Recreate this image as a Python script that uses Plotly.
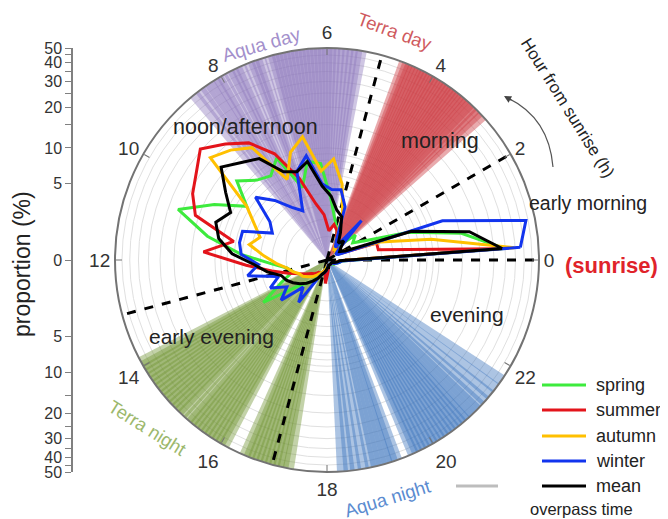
import math
import plotly.graph_objects as go

# ---------------- data ----------------
# half-hour bins (hour from sunrise, bin centres)
bin_hours = [0.25, 0.75, 1.25, 1.75, 2.25, 2.75, 3.25, 3.75, 4.25, 4.75, 5.25, 5.75,
             6.25, 6.75, 7.25, 7.75, 8.25, 8.75, 9.25, 9.75, 10.25, 10.75, 11.25, 11.75,
             12.25, 12.75, 13.25, 13.75, 14.25, 14.75, 15.25, 15.75, 16.25, 16.75, 17.25, 17.75,
             18.25, 18.75, 19.25, 19.75, 20.25, 20.75, 21.25, 21.75, 22.25, 22.75, 23.25, 23.75]

spring = [29.5, 15.4, 6.1, 2.2, 1.4, 1.8, 0.85, 0.6, 0.85, 1.4, 2.0, 3.5,
          7.5, 8.1, 5.0, 10.3, 8.2, 9.0, 11.5, 7.5, 12.7, 21.4, 11.9, 6.1,
          3.1, 2.0, 1.7, 2.7, 5.0, 2.0, 1.4, 1.1, 0.75, 0.55, 0.4, 0.3,
          0.3, 0.2, 0.2, 0.2, 0.2, 0.2, 0.2, 0.3, 0.3, 0.4, 0.5, 0.6]
summer = [27.2, 2.8, 2.8, 0.6, 0.5, 0.6, 0.5, 0.75, 0.85, 1.4, 1.7, 1.3,
          2.3, 3.2, 6.1, 11.2, 16.4, 20.4, 25.6, 21.4, 19.0, 15.9, 7.3, 12.3,
          5.5, 3.1, 2.0, 1.4, 1.1, 0.85, 0.75, 0.6, 0.6, 0.5, 0.4, 1.0,
          0.5, 0.3, 0.2, 0.2, 0.2, 0.2, 0.2, 0.2, 0.3, 0.3, 0.4, 0.5]
autumn = [34.5, 9.0, 3.1, 0.85, 0.5, 0.4, 0.6, 0.5, 0.85, 2.5, 5.1, 8.2,
          6.5, 12.7, 10.3, 6.6, 14.9, 17.9, 20.7, 7.5, 5.5, 4.4, 5.3, 3.7,
          2.7, 2.0, 1.7, 1.4, 1.3, 1.1, 0.95, 0.75, 0.6, 0.5, 0.4, 0.3,
          0.2, 0.2, 0.2, 0.2, 0.2, 0.2, 0.2, 0.2, 0.3, 0.3, 0.4, 0.5]
winter = [37.9, 43.5, 11.9, 0.5, 0.4, 0.6, 2.8, 0.6, 0.85, 3.1, 4.5, 4.4,
          5.0, 9.0, 7.1, 3.0, 3.7, 5.3, 7.3, 4.2, 3.5, 6.5, 6.5, 6.1,
          4.2, 5.5, 2.7, 3.7, 2.5, 3.5, 1.7, 2.7, 0.85, 0.6, 0.5, 0.4,
          0.3, 0.2, 0.2, 0.2, 0.2, 0.2, 0.2, 0.2, 0.3, 0.4, 0.5, 0.6]
mean = [28.6, 17.6, 6.5, 0.85, 0.61, 0.75, 1.1, 0.85, 1.37, 2.32, 2.68, 3.76,
        4.74, 8.07, 7.05, 7.78, 11.9, 13.6, 16.4, 11.9, 9.2, 11.0, 9.7, 7.3,
        4.6, 3.5, 2.5, 2.3, 2.0, 1.7, 1.4, 1.1, 0.85, 0.6, 0.5, 0.4,
        0.3, 0.3, 0.2, 0.2, 0.2, 0.2, 0.2, 0.2, 0.2, 0.3, 0.4, 0.5]

# satellite overpass times (hour from sunrise)
terra_day = [2.86, 2.95, 3.03, 3.1, 3.17, 3.23, 3.29, 3.35, 3.41, 3.47, 3.53, 3.58, 3.64,
             3.7, 3.75, 3.81, 3.87, 3.93, 3.98, 4.04, 4.1, 4.16, 4.21, 4.27, 4.33, 4.39,
             4.45, 4.51, 4.57]
aqua_day = [5.38, 5.46, 5.54, 5.62, 5.7, 5.78, 5.86, 5.93, 6.0, 6.07, 6.14, 6.21, 6.28,
            6.35, 6.42, 6.49, 6.56, 6.63, 6.7, 6.77, 6.84, 6.91, 6.98, 7.05, 7.22, 7.29,
            7.36, 7.44, 7.6, 7.68, 7.76, 7.84, 7.98, 8.06, 8.14, 8.24, 8.34, 8.45, 8.58]
terra_night = [13.92, 14.0, 14.08, 14.16, 14.24, 14.32, 14.4, 14.48, 14.56, 14.64, 14.72,
               14.8, 14.88, 14.96, 15.04, 15.12, 15.26, 15.34, 15.42, 15.5, 15.58, 15.66,
               15.74, 15.82, 15.9, 15.98, 16.06, 16.48, 16.56, 16.64, 16.72, 16.8, 16.88,
               16.96, 17.04, 17.12, 17.2, 17.3]
aqua_night = [18.28, 18.4, 18.52, 18.66, 18.8, 18.9, 19.0, 19.1, 19.2, 19.28, 19.6, 19.68,
              19.76, 19.84, 19.92, 20.0, 20.08, 20.16, 20.24, 20.32, 20.4, 20.48, 20.56,
              20.64, 20.72, 20.8, 20.9, 21.0, 21.1, 21.22, 21.36, 21.52, 21.7]

divider_hours = [0, 2, 5, 13, 17]
hour_ticks = [0, 2, 4, 6, 8, 10, 12, 14, 16, 18, 20, 22]
hour_tick_labels = ["0", "2", "4", "6", "8", "10", "12", "14", "16", "18", "20", "22"]
grid_values = [1, 2, 3, 4, 5, 6, 7, 8, 9, 10, 15, 20, 25, 30, 35, 40, 45]
axis_ticks = [0, 5, 10, 15, 20, 25, 30, 35, 40, 45, 50]
axis_labels_top = ["0", "5", "10", "", "20", "", "30", "", "40", "", "50"]
axis_labels_bottom = ["", "5", "10", "", "20", "", "30", "", "40", "", "50"]
R_MAX = 50

# ---------------- helpers ----------------
OFFSET = 2.5          # radial scale is log(p + 2.5)
DEG = 15              # degrees per hour
PAGE = 8              # default page margin of the html body
W, H = 668 + PAGE, 519 + PAGE
FONT = "Liberation Sans, Arial, sans-serif"


def px(x):
    return (x - PAGE) / W


def py(y):
    return 1 - (y - PAGE) / H


fig = go.Figure()

fans = [
    (terra_day, "rgba(204,62,68,0.44)"),
    (aqua_day, "rgba(140,118,188,0.42)"),
    (terra_night, "rgba(112,148,50,0.42)"),
    (aqua_night, "rgba(58,115,188,0.42)"),
]
for hours, col in fans:
    fig.add_trace(go.Barpolar(
        theta=[h * DEG for h in hours], r=[R_MAX] * len(hours), base=OFFSET,
        width=3.0, marker=dict(color=col, line=dict(width=0)),
        showlegend=False, hoverinfo="skip"))

# region dividers
th, rr = [], []
for h in divider_hours:
    th += [h * DEG, h * DEG, None]
    rr += [OFFSET, R_MAX + OFFSET, None]
fig.add_trace(go.Scatterpolar(theta=th, r=rr, mode="lines",
                              line=dict(color="black", width=3, dash="dash"),
                              showlegend=False, hoverinfo="skip"))

series = [
    ("spring", spring, "#3DEB3D"),
    ("summer", summer, "#E3141B"),
    ("autumn", autumn, "#FFC000"),
    ("winter", winter, "#1234EE"),
    ("mean", mean, "#000000"),
]
for name, vals, col in series:
    t = [h * DEG for h in bin_hours] + [bin_hours[0] * DEG]
    r = [v + OFFSET for v in vals] + [vals[0] + OFFSET]
    fig.add_trace(go.Scatterpolar(theta=t, r=r, mode="lines", name=name,
                                  line=dict(color=col, width=3), showlegend=False))

# invisible traces for the left proportion axis
fig.add_trace(go.Scatter(x=[0], y=[OFFSET + 1], xaxis="x", yaxis="y", mode="markers",
                         marker=dict(opacity=0), showlegend=False, hoverinfo="skip"))
fig.add_trace(go.Scatter(x=[0], y=[OFFSET + 1], xaxis="x", yaxis="y2", mode="markers",
                         marker=dict(opacity=0), showlegend=False, hoverinfo="skip"))

lo, hi = math.log10(OFFSET), math.log10(R_MAX + OFFSET)
yax_common = dict(type="log", tickmode="array", tickvals=[v + OFFSET for v in axis_ticks],
                  showline=True, linecolor="#808080", linewidth=1.5, ticks="outside",
                  ticklen=6, tickcolor="#808080", showgrid=False, zeroline=False,
                  tickfont=dict(size=16, color="#333", family=FONT), anchor="x")

fig.update_layout(
    width=W, height=H, autosize=False,
    margin=dict(l=0, r=0, t=0, b=0, autoexpand=False),
    paper_bgcolor="white", plot_bgcolor="rgba(0,0,0,0)",
    font=dict(family=FONT, color="#222"),
    xaxis=dict(domain=[px(73), px(80)], range=[0, 1], visible=False),
    yaxis=dict(domain=[py(260), py(48)], range=[lo, hi], ticktext=axis_labels_top, **yax_common),
    yaxis2=dict(domain=[py(472), py(260)], range=[hi, lo], ticktext=axis_labels_bottom, **yax_common),
    polar=dict(
        domain=dict(x=[px(115), px(539)], y=[py(472), py(48)]),
        bgcolor="white", barmode="overlay",
        angularaxis=dict(rotation=0, direction="counterclockwise", thetaunit="degrees",
                         tickmode="array", tickvals=[h * DEG for h in hour_ticks],
                         ticktext=hour_tick_labels, showgrid=False,
                         linecolor="#737373", linewidth=2, ticks="inside", ticklen=6,
                         tickcolor="#737373", tickfont=dict(size=19, color="#333", family=FONT)),
        radialaxis=dict(type="log", range=[lo, hi], tickmode="array",
                        tickvals=[g + OFFSET for g in grid_values], showticklabels=False,
                        ticks="", showline=False, gridcolor="#e0e0e0", gridwidth=1),
    ),
)

ann = []


def text(x, y, s, size=19, color="#222", angle=0, xanchor="center"):
    ann.append(dict(x=px(x), y=py(y), xref="paper", yref="paper", text=s, showarrow=False,
                    font=dict(size=size, color=color, family=FONT), textangle=angle,
                    xanchor=xanchor, yanchor="middle"))


text(22, 264, "proportion (%)", size=23, angle=-90)
text(262, 44, "Aqua day", color="#A390CC", angle=-16)
text(395, 31, "Terra day", color="#CF5A5E", angle=20, size=18.5)
text(567, 108, "Hour from sunrise (h)", size=17, angle=58)
text(245, 127, "noon/afternoon", size=21.5)
text(440, 141, "morning", size=21.5)
text(588, 203, "early morning", size=19.5)
text(611, 266, "<b>(sunrise)</b>", color="#E0232A", size=22)
text(467, 314, "evening", size=21)
text(211, 336, "early evening", size=21)
text(147, 427, "Terra night", color="#9CB86C", angle=32, size=18.5)
text(387, 498, "Aqua night", color="#5A8BD0", angle=-17, size=18.5)

leg_y = [385, 410, 436, 461, 486]
shapes = []
for (name, vals, col), yy in zip(series, leg_y):
    shapes.append(dict(type="line", xref="paper", yref="paper", x0=px(542), x1=px(586),
                       y0=py(yy), y1=py(yy), line=dict(color=col, width=3)))
    text(594, yy, name, xanchor="left", size=18)
shapes.append(dict(type="line", xref="paper", yref="paper", x0=px(456), x1=px(498),
                   y0=py(486), y1=py(486), line=dict(color="#bdbdbd", width=3)))
text(581, 509, "overpass time", size=16.5)

# curved arrow
shapes.append(dict(type="path", xref="paper", yref="paper",
                   path=f"M {px(553)},{py(167)} Q {px(549)},{py(118)} {px(508)},{py(98)}",
                   line=dict(color="#555", width=1.2)))
ann.append(dict(x=px(504), y=py(96), xref="paper", yref="paper", text="", showarrow=True,
                ax=9, ay=5, arrowhead=2, arrowsize=1.2, arrowwidth=1.2, arrowcolor="#444"))

fig.update_layout(annotations=ann, shapes=shapes)
fig.write_html("out.html")
